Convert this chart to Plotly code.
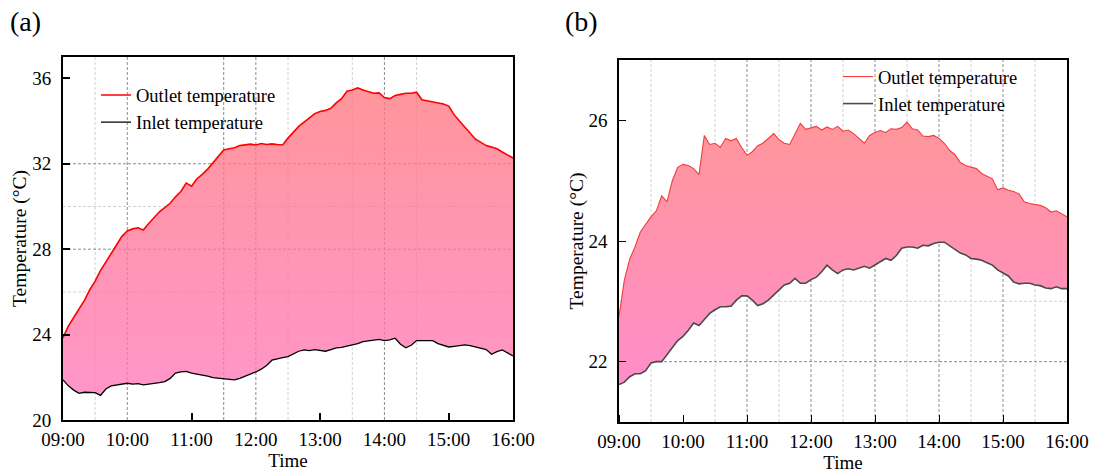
import plotly.graph_objects as go

FONT = "Liberation Serif"

# ---- time axis -------------------------------------------------------------
HOUR_LABELS = ["09:00", "10:00", "11:00", "12:00", "13:00", "14:00", "15:00", "16:00"]
SAMPLE_STEP_MIN = 5


def to_minutes(label):
    h, m = label.split(":")
    return (int(h) - 9) * 60 + int(m)


HOUR_POS = [to_minutes(t) for t in HOUR_LABELS]
TIMES = list(range(0, HOUR_POS[-1] + 1, SAMPLE_STEP_MIN))

# ---- (a) temperatures, one row per hour (5-min samples) ---------------------
A_OUTLET = [
    23.85, 24.4, 24.8, 25.2, 25.6, 26.1, 26.5, 27.0, 27.4, 27.8, 28.2, 28.6,
    28.85, 28.95, 29.0, 28.9, 29.2, 29.5, 29.75, 29.95, 30.15, 30.45, 30.7, 31.1,
    30.95, 31.3, 31.5, 31.75, 32.05, 32.4, 32.65, 32.7, 32.75, 32.85, 32.9, 32.92,
    32.88, 32.95, 32.9, 32.93, 32.9, 32.88, 33.2, 33.5, 33.75, 33.95, 34.15, 34.35,
    34.45, 34.5, 34.6, 34.85, 35.05, 35.4, 35.45, 35.55, 35.45, 35.38, 35.3, 35.32,
    35.1, 35.05, 35.2, 35.25, 35.3, 35.3, 35.35, 35.0, 34.95, 34.9, 34.85, 34.8,
    34.7, 34.3, 34.0, 33.7, 33.4, 33.15, 33.0, 32.85, 32.78, 32.7, 32.55, 32.4,
    32.27,
]
A_INLET = [
    21.88, 21.6, 21.4, 21.25, 21.3, 21.3, 21.28, 21.15, 21.45, 21.6, 21.65, 21.7,
    21.72, 21.68, 21.7, 21.65, 21.7, 21.72, 21.75, 21.8, 21.95, 22.2, 22.25, 22.28,
    22.2, 22.15, 22.12, 22.05, 21.98, 21.95, 21.93, 21.9, 21.88, 21.95, 22.05, 22.12,
    22.25, 22.38, 22.55, 22.8, 22.87, 22.92, 22.97, 23.1, 23.22, 23.28, 23.25, 23.3,
    23.25, 23.22, 23.3, 23.38, 23.4, 23.45, 23.5, 23.58, 23.67, 23.7, 23.75, 23.78,
    23.72, 23.75, 23.83, 23.55, 23.38, 23.5, 23.72, 23.72, 23.7, 23.72, 23.58, 23.5,
    23.42, 23.45, 23.5, 23.52, 23.48, 23.42, 23.38, 23.3, 23.08, 23.2, 23.28, 23.15,
    23.0,
]

# ---- (b) temperatures -------------------------------------------------------
B_OUTLET = [
    22.75, 23.35, 23.7, 23.9, 24.15, 24.28, 24.4, 24.5, 24.75, 24.65, 25.0, 25.22,
    25.27, 25.25, 25.2, 25.1, 25.75, 25.6, 25.62, 25.55, 25.7, 25.66, 25.7, 25.55,
    25.42, 25.48, 25.58, 25.62, 25.7, 25.78, 25.68, 25.62, 25.6, 25.78, 25.95, 25.85,
    25.87, 25.9, 25.84, 25.89, 25.85, 25.9, 25.82, 25.84, 25.78, 25.7, 25.62, 25.75,
    25.8, 25.83, 25.8, 25.86, 25.85, 25.88, 25.97, 25.86, 25.84, 25.74, 25.73, 25.75,
    25.7, 25.62, 25.5, 25.43, 25.3, 25.25, 25.23, 25.2, 25.12, 25.08, 25.03, 24.85,
    24.88, 24.84, 24.82, 24.78, 24.65, 24.62, 24.6, 24.59, 24.55, 24.48, 24.5, 24.45,
    24.4,
]
B_INLET = [
    21.62, 21.66, 21.75, 21.8, 21.8, 21.85, 21.98, 22.0, 22.0, 22.12, 22.24, 22.35,
    22.42, 22.52, 22.64, 22.6, 22.7, 22.8, 22.86, 22.91, 22.91, 22.92, 23.02, 23.09,
    23.09, 23.02, 22.93, 22.96, 23.02, 23.1, 23.18, 23.27, 23.3, 23.38, 23.3, 23.3,
    23.36, 23.4, 23.49, 23.6, 23.52, 23.46, 23.52, 23.54, 23.52, 23.55, 23.58, 23.55,
    23.6, 23.66, 23.71, 23.68, 23.76, 23.88, 23.9, 23.9, 23.88, 23.93, 23.92, 23.96,
    23.98, 23.98, 23.92, 23.85, 23.8, 23.77, 23.71, 23.7, 23.68, 23.64, 23.6, 23.52,
    23.47, 23.42, 23.32, 23.29, 23.3, 23.3, 23.27, 23.26, 23.22, 23.21, 23.24, 23.21,
    23.21,
]

# ---- axis ticks and grid positions -------------------------------------------
A_Y_TICKS = [20, 24, 28, 32, 36]
A_Y_RANGE = [20, 37]
A_X_TICK_MARKS = ["11:00", "13:00", "15:00"]
A_GRID_X_DARK = ["10:00", "11:30", "12:00", "14:00"]
A_GRID_X_LIGHT = ["09:30", "12:30", "13:30", "14:30"]
A_GRID_Y_DARK = [28, 32]
A_GRID_Y_LIGHT = [26, 30]

B_Y_TICKS = [22, 24, 26]
B_Y_RANGE = [21, 27]
B_GRID_X_DARK = ["11:00", "12:00", "13:00", "14:00", "15:00"]
B_GRID_X_LIGHT = ["09:30", "10:30", "11:30", "12:30", "13:30", "14:30", "15:30"]
B_GRID_Y_DARK = [22]
B_GRID_Y_LIGHT = [23]

X_RANGE = [HOUR_POS[0], HOUR_POS[-1]]

W, H = 1095, 474
DARK_GRID = "#8c8c8c"
LIGHT_GRID = "#d2d2d2"
GRID_DASH = "3px,2px"


def px_x(a, b):
    return [a / W, b / W]


def px_y(top, bottom):
    return [(H - bottom) / H, (H - top) / H]


tick_font = dict(family=FONT, size=19, color="black")
title_font = dict(family=FONT, size=19.5, color="black")


def main_x(domain, anchor, lw, tick_marks, tick_w):
    return dict(
        domain=domain, anchor=anchor, range=X_RANGE, tickmode="array",
        tickvals=HOUR_POS, ticktext=HOUR_LABELS, ticks="", showgrid=False,
        zeroline=False, showline=True, linecolor="black", linewidth=lw,
        mirror=True, tickfont=tick_font, ticklabelstandoff=1,
        title=dict(text="Time", font=dict(family=FONT, size=19, color="black"), standoff=0),
        minor=dict(tickmode="array", tickvals=tick_marks, ticks="inside",
                   ticklen=7, tickwidth=tick_w, tickcolor="black", showgrid=False),
        automargin=False, layer="above traces", fixedrange=True,
    )


def main_y(domain, anchor, rng, tickvals, lw, tick_w):
    return dict(
        domain=domain, anchor=anchor, range=rng, tickmode="array",
        tickvals=tickvals, ticks="inside", ticklen=7, tickwidth=tick_w,
        tickcolor="black", showgrid=False, zeroline=False, showline=True,
        linecolor="black", linewidth=lw, mirror=True, tickfont=tick_font,
        ticklabelstandoff=6,
        title=dict(text="Temperature (°C)", font=title_font, standoff=0),
        automargin=False, layer="above traces", fixedrange=True,
    )


def grid_shapes(xref, yref, xs_dark, xs_light, ys_dark, ys_light):
    """Dashed grid lines drawn beneath the traces of one panel."""
    shapes = []
    for xs, color in ((xs_light, LIGHT_GRID), (xs_dark, DARK_GRID)):
        for t in xs:
            v = to_minutes(t)
            shapes.append(dict(type="line", xref=xref, yref=f"{yref} domain",
                               x0=v, x1=v, y0=0, y1=1, layer="below",
                               line=dict(color=color, width=1, dash=GRID_DASH)))
    for ys, color in ((ys_light, LIGHT_GRID), (ys_dark, DARK_GRID)):
        for v in ys:
            shapes.append(dict(type="line", xref=f"{xref} domain", yref=yref,
                               x0=0, x1=1, y0=v, y1=v, layer="below",
                               line=dict(color=color, width=1, dash=GRID_DASH)))
    return shapes


fig = go.Figure()

# (a): inlet line, band filled up to the outlet with a vertical gradient, outlet line
fig.add_trace(go.Scatter(
    x=TIMES, y=A_INLET, mode="lines", name="Inlet temperature",
    line=dict(color="black", width=1.3), xaxis="x", yaxis="y",
    legend="legend", legendrank=2,
))
fig.add_trace(go.Scatter(
    x=TIMES, y=A_OUTLET, mode="lines", line=dict(width=0), showlegend=False,
    xaxis="x", yaxis="y", fill="tonexty", hoverinfo="skip",
    fillgradient=dict(
        type="vertical",
        colorscale=[[0, "rgba(255,120,185,0.78)"], [1, "rgba(255,120,127,0.78)"]],
        start=min(A_INLET), stop=max(A_OUTLET),
    ),
))
fig.add_trace(go.Scatter(
    x=TIMES, y=A_OUTLET, mode="lines", name="Outlet temperature",
    line=dict(color="#ff0000", width=1.6), xaxis="x", yaxis="y",
    legend="legend", legendrank=1,
))

# (b)
fig.add_trace(go.Scatter(
    x=TIMES, y=B_INLET, mode="lines", name="Inlet temperature",
    line=dict(color="#4a4a4a", width=1.6), xaxis="x2", yaxis="y2",
    legend="legend2", legendrank=2,
))
fig.add_trace(go.Scatter(
    x=TIMES, y=B_OUTLET, mode="lines", line=dict(width=0),
    showlegend=False, xaxis="x2", yaxis="y2", fill="tonexty", hoverinfo="skip",
    fillgradient=dict(
        type="vertical",
        colorscale=[[0, "rgb(255,142,200)"], [1, "rgb(255,150,155)"]],
        start=min(B_INLET), stop=max(B_OUTLET),
    ),
))
fig.add_trace(go.Scatter(
    x=TIMES, y=B_OUTLET, mode="lines", name="Outlet temperature",
    line=dict(color="#f23c3c", width=1.1), xaxis="x2", yaxis="y2",
    legend="legend2", legendrank=1,
))

A_DOM_X, A_DOM_Y = px_x(63, 513), px_y(57, 420)
B_DOM_X, B_DOM_Y = px_x(619, 1067), px_y(60, 422)

legend_font = dict(family=FONT, size=18.5, color="black")

shapes = (grid_shapes("x", "y", A_GRID_X_DARK, A_GRID_X_LIGHT, A_GRID_Y_DARK, A_GRID_Y_LIGHT)
          + grid_shapes("x2", "y2", B_GRID_X_DARK, B_GRID_X_LIGHT, B_GRID_Y_DARK, B_GRID_Y_LIGHT))

fig.update_layout(
    template="none",
    width=W, height=H,
    margin=dict(l=0, r=0, t=0, b=0),
    paper_bgcolor="white", plot_bgcolor="white",
    font=dict(family=FONT, color="black"),
    showlegend=True,
    xaxis=main_x(A_DOM_X, "y", 2, [to_minutes(t) for t in A_X_TICK_MARKS], 1.6),
    yaxis=main_y(A_DOM_Y, "x", A_Y_RANGE, A_Y_TICKS, 2, 1.6),
    xaxis2=main_x(B_DOM_X, "y2", 1.5, HOUR_POS, 1.4),
    yaxis2=main_y(B_DOM_Y, "x2", B_Y_RANGE, B_Y_TICKS, 1.5, 1.4),
    shapes=shapes,
    legend=dict(x=96 / W, y=(H - 76.5) / H, xanchor="left", yanchor="top",
                bgcolor="rgba(0,0,0,0)", font=legend_font, tracegroupgap=0,
                traceorder="normal"),
    legend2=dict(x=838 / W, y=(H - 58) / H, xanchor="left", yanchor="top",
                 bgcolor="rgba(0,0,0,0)", font=legend_font, tracegroupgap=0,
                 traceorder="normal"),
    annotations=[
        dict(text="(a)", x=25 / W, y=(H - 22) / H, xref="paper", yref="paper",
             showarrow=False, font=dict(family=FONT, size=28, color="black"),
             xanchor="center", yanchor="middle"),
        dict(text="(b)", x=581 / W, y=(H - 22) / H, xref="paper", yref="paper",
             showarrow=False, font=dict(family=FONT, size=28, color="black"),
             xanchor="center", yanchor="middle"),
    ],
)

fig.write_html("out.html")
